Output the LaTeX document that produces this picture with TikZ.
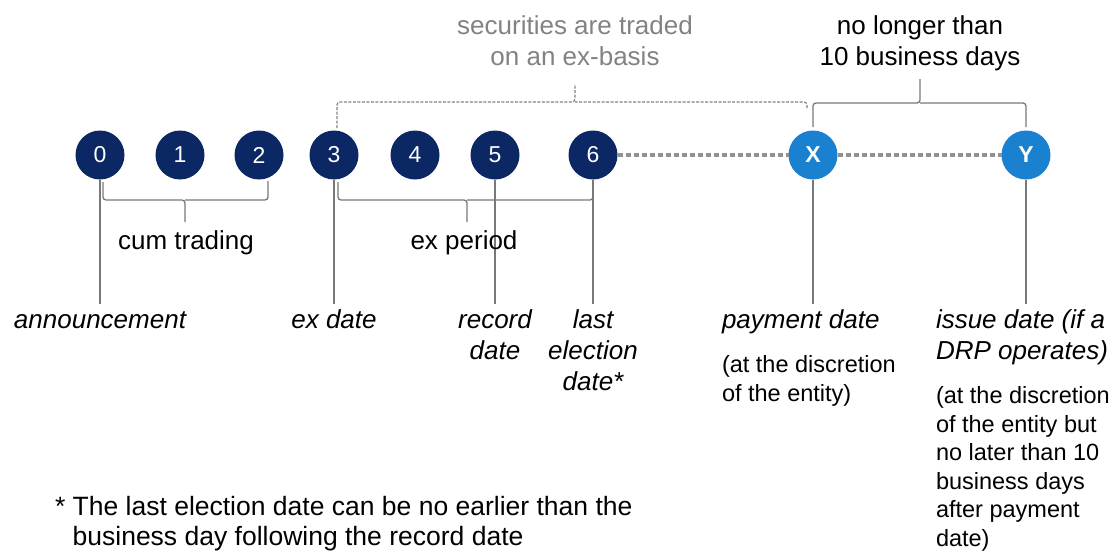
\documentclass[tikz,border=0pt]{standalone}
\usepackage{fontspec}
\setmainfont{Liberation Sans}
\usetikzlibrary{positioning}
\definecolor{navy}{RGB}{12,40,100}
\definecolor{dayblue}{RGB}{26,128,208}
\definecolor{rulegray}{RGB}{120,120,120}
\definecolor{dotgray}{RGB}{145,145,145}
\definecolor{softgray}{RGB}{130,130,130}
\begin{document}
\begin{tikzpicture}[x=1pt,y=-1pt,
  every node/.style={inner sep=0pt,outer sep=0pt},
  day/.style={circle,fill=navy,minimum size=49pt,text=white,font=\fontsize{23}{27}\selectfont},
  payday/.style={day,fill=dayblue,font=\fontsize{23}{27}\selectfont\bfseries},
  datelbl/.style={align=center,anchor=north,font=\fontsize{26}{31}\selectfont\itshape},
  sidelbl/.style={align=left,anchor=north west,font=\fontsize{26}{31}\selectfont\itshape},
  note/.style={align=left,font=\fontsize{23.5}{28.5}\selectfont},
  toplbl/.style={align=center,anchor=north,font=\fontsize{26}{31}\selectfont},
  midlbl/.style={anchor=base,font=\fontsize{26}{31}\selectfont},
  dotline/.style={draw=dotgray,line width=4pt,dash pattern=on 5pt off 3pt},
  bracket/.style={draw=rulegray,line width=1.3pt,rounded corners=3pt},
  exbracket/.style={bracket,draw=softgray,line width=1.2pt,dash pattern=on 3pt off 1.5pt},
  stem/.style={draw=rulegray,line width=1.2pt,shorten >=3pt}]
\useasboundingbox (0,0) rectangle (1116,551);
%
\foreach \d/\x in {0/100,1/180,2/259,3/334,4/415,5/495,6/593}
  \node[day] (day\d) at (\x,155) {\d};
\node[payday] (pay) at (813,155) {X};
\node[payday] (issue) at (1026,155) {Y};
\draw[dotline] (day6) -- (pay);
\draw[dotline] (pay) -- (issue);
%
\node[datelbl] (annlbl) at (100,307) {\strut announcement};
\node[datelbl] (exlbl) at (334,307) {\strut ex date};
\node[datelbl] (reclbl) at (495,307) {\strut record\\date};
\node[datelbl] (lastlbl) at (593,307) {\strut last\\election\\date*};
\node[sidelbl] (paylbl) at (722,307) {\strut payment date};
\node[sidelbl] (issuelbl) at (936,307) {\strut issue date (if a\\DRP operates)\strut};
\node[note,below right=15pt and 0pt of paylbl.south west] (paynote) {\strut(at the discretion\\of the entity)};
\node[note,below right=15pt and 0pt of issuelbl.south west] (issuenote) {\strut(at the discretion\\of the entity but\\no later than 10\\business days\\after payment\\date)};
%
\draw[stem] (day0) -- (annlbl);
\draw[stem] (day3) -- (exlbl);
\draw[stem] (day5) -- (reclbl);
\draw[stem] (day6) -- (lastlbl);
\draw[stem] (pay.south) -- (pay.south |- paylbl.north);
\draw[stem] (issue.south) -- (issue.south |- issuelbl.north);
%
\draw[bracket] (103,182) |- (185,200) -- (185,222);
\draw[bracket] (268,181) |- (185,200);
\node[midlbl] (cumlbl) at (186,249) {cum trading};
\draw[bracket] (338,182) |- (467,200) -- (467,222);
\draw[bracket] (593,180) |- (467,200);
\node[midlbl] (experiod) at (464,249) {ex period};
%
\draw[exbracket] (337,128) |- (575,102) -- (575,84);
\draw[exbracket] (807,108) |- (575,102);
\node[toplbl,text=softgray] (exbasis) at (575,13) {\strut securities are traded\\on an ex-basis};
\draw[bracket] (813,127) |- (920,103) -- (920,79);
\draw[bracket] (1026,127) |- (920,103);
\node[toplbl] (limitlbl) at (920,13) {\strut no longer than\\10 business days};
%
\node[anchor=north west,align=left,font=\fontsize{26.5}{30}\selectfont] (footnote) at (55,494)
  {\strut * The last election date can be no earlier than the\\\hphantom{*\ }business day following the record date};
\end{tikzpicture}
\end{document}
